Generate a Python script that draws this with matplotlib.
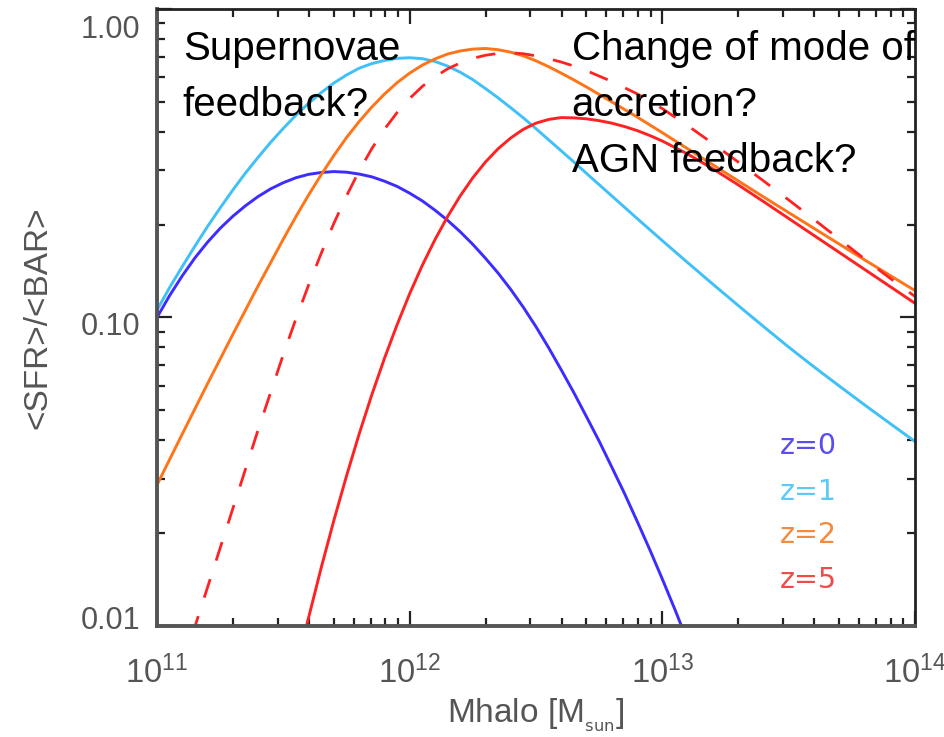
import numpy as np
import matplotlib
matplotlib.use("Agg")
import matplotlib.pyplot as plt
import matplotlib.transforms as mtrans
from matplotlib.ticker import LogLocator, NullFormatter

plt.rcParams['font.family'] = ['Liberation Sans', 'DejaVu Sans']
plt.rcParams['mathtext.default'] = 'regular'

# values: log10(Mhalo/Msun) and log10(<SFR>/<BAR>)
logm_z0 = [11.0, 11.05, 11.1, 11.15, 11.2, 11.25, 11.3, 11.35, 11.4, 11.45,
           11.5, 11.55, 11.6, 11.65, 11.7, 11.75, 11.8, 11.85, 11.9, 11.95,
           12.0, 12.05, 12.1, 12.15, 12.2, 12.25, 12.3, 12.35, 12.4, 12.45,
           12.5, 12.55, 12.6, 12.65, 12.7, 12.75, 12.8, 12.85, 12.9, 12.95,
           13.0, 13.05, 13.1]
logr_z0 = [-1.0, -0.929, -0.865, -0.807, -0.756, -0.711, -0.672, -0.638,
           -0.608, -0.583, -0.563, -0.547, -0.536, -0.530, -0.527, -0.529,
           -0.535, -0.544, -0.558, -0.575, -0.597, -0.622, -0.652, -0.685,
           -0.722, -0.763, -0.808, -0.856, -0.909, -0.967, -1.03, -1.098,
           -1.17, -1.244, -1.322, -1.401, -1.485, -1.570, -1.66, -1.752,
           -1.848, -1.947, -2.05]

logm_z1 = [11.0, 11.05, 11.1, 11.15, 11.2, 11.25, 11.3, 11.35, 11.4, 11.45,
           11.5, 11.55, 11.6, 11.65, 11.7, 11.75, 11.8, 11.85, 11.9, 11.95,
           12.0, 12.05, 12.1, 12.15, 12.2, 12.25, 12.3, 12.35, 12.4, 12.45,
           12.5, 12.55, 12.6, 12.65, 12.7, 12.8, 12.9, 13.0, 13.1, 13.2, 13.3,
           13.4, 13.5, 13.6, 13.7, 13.8, 13.9, 14.0]
logr_z1 = [-0.976, -0.903, -0.835, -0.769, -0.705, -0.645, -0.587, -0.532,
           -0.481, -0.432, -0.387, -0.344, -0.306, -0.271, -0.240, -0.214,
           -0.192, -0.177, -0.167, -0.160, -0.158, -0.161, -0.170, -0.185,
           -0.205, -0.229, -0.258, -0.288, -0.320, -0.353, -0.388, -0.424,
           -0.460, -0.496, -0.533, -0.606, -0.679, -0.751, -0.822, -0.892,
           -0.961, -1.029, -1.096, -1.160, -1.222, -1.283, -1.343, -1.402]

logm_z2 = [11.0, 11.1, 11.2, 11.3, 11.4, 11.5, 11.55, 11.6, 11.65, 11.7,
           11.75, 11.8, 11.85, 11.9, 11.95, 12.0, 12.05, 12.1, 12.15, 12.2,
           12.25, 12.3, 12.35, 12.4, 12.45, 12.5, 12.55, 12.6, 12.65, 12.7,
           12.8, 12.9, 13.0, 13.1, 13.2, 13.3, 13.4, 13.5, 13.6, 13.7, 13.8,
           13.9, 14.0]
logr_z2 = [-1.543, -1.378, -1.215, -1.055, -0.898, -0.746, -0.673, -0.603,
           -0.537, -0.475, -0.417, -0.365, -0.318, -0.276, -0.239, -0.208,
           -0.182, -0.162, -0.146, -0.136, -0.130, -0.128, -0.132, -0.140,
           -0.152, -0.168, -0.187, -0.208, -0.230, -0.253, -0.301, -0.350,
           -0.401, -0.453, -0.505, -0.557, -0.609, -0.660, -0.711, -0.762,
           -0.813, -0.863, -0.913]

logm_z5 = [11.58, 11.6, 11.65, 11.7, 11.75, 11.8, 11.85, 11.9, 11.95, 12.0,
           12.05, 12.1, 12.15, 12.2, 12.25, 12.3, 12.35, 12.4, 12.45, 12.5,
           12.55, 12.6, 12.65, 12.7, 12.75, 12.8, 12.85, 12.9, 12.95, 13.0,
           13.1, 13.2, 13.3, 13.4, 13.5, 13.6, 13.7, 13.8, 13.9, 14.0]
logr_z5 = [-2.037, -1.973, -1.811, -1.658, -1.514, -1.378, -1.251, -1.133,
           -1.024, -0.923, -0.831, -0.748, -0.673, -0.606, -0.547, -0.496,
           -0.453, -0.418, -0.390, -0.370, -0.358, -0.352, -0.353, -0.356,
           -0.362, -0.370, -0.381, -0.394, -0.410, -0.428, -0.470, -0.518,
           -0.570, -0.624, -0.679, -0.734, -0.789, -0.844, -0.899, -0.954]

logm_z5_dash = [11.14, 11.2, 11.3, 11.4, 11.5, 11.55, 11.6, 11.65, 11.7,
                11.75, 11.8, 11.85, 11.9, 11.95, 12.0, 12.05, 12.1, 12.15,
                12.2, 12.25, 12.3, 12.35, 12.4, 12.45, 12.5, 12.55, 12.6,
                12.65, 12.7, 12.8, 12.9, 13.0, 13.1, 13.2, 13.3, 13.4, 13.5,
                13.6, 13.7, 13.8, 13.9, 14.0]
logr_z5_dash = [-2.028, -1.875, -1.62, -1.365, -1.12, -1.004, -0.895, -0.792,
                -0.695, -0.606, -0.525, -0.453, -0.390, -0.336, -0.290,
                -0.251, -0.220, -0.194, -0.175, -0.160, -0.150, -0.144,
                -0.142, -0.145, -0.152, -0.161, -0.172, -0.185, -0.200,
                -0.235, -0.275, -0.323, -0.378, -0.436, -0.496, -0.557,
                -0.619, -0.682, -0.746, -0.810, -0.872, -0.932]

z_labels = ['z=0', 'z=1', 'z=2', 'z=5']
line_colors = ['#3d2cff', '#3fc0f8', '#ff7418', '#ff2222']
label_colors = ['#5a4cf2', '#5ccaf6', '#f58a3c', '#f24a4a']

xticks = [1e11, 1e12, 1e13, 1e14]
xticklabels = ['$10^{11}$', '$10^{12}$', '$10^{13}$', '$10^{14}$']
yticks = [0.01, 0.1, 1.0]
yticklabels = ['0.01', '0.10', '1.00']
ytick_shift_px = [-9, 6, 18]   # labels sit off their ticks in the original

fig = plt.figure(figsize=(9.45, 7.37), dpi=100)
ax = fig.add_axes([0.1661, 0.1506, 0.8022, 0.8372])

curves = [(logm_z0, logr_z0), (logm_z1, logr_z1), (logm_z2, logr_z2),
          (logm_z5, logr_z5)]
for (lm, lr), c in zip(curves, line_colors):
    ax.plot(10 ** np.array(lm), 10 ** np.array(lr), color=c, lw=2.1)
ax.plot(10 ** np.array(logm_z5_dash), 10 ** np.array(logr_z5_dash),
        color=line_colors[3], lw=2.0, ls=(0, (7, 7)))

ax.set_xscale('log')
ax.set_yscale('log')
ax.set_xlim(1e11, 1e14)
ax.set_ylim(0.01, 1.0)

ax.set_xticks(xticks)
ax.set_xticklabels(xticklabels)
ax.set_yticks(yticks)
ax.set_yticklabels(yticklabels)
ax.xaxis.set_minor_locator(LogLocator(base=10, subs=np.arange(2, 10)))
ax.yaxis.set_minor_locator(LogLocator(base=10, subs=np.arange(2, 10)))
ax.xaxis.set_minor_formatter(NullFormatter())
ax.yaxis.set_minor_formatter(NullFormatter())

ax.tick_params(which='both', direction='in', top=True, right=True,
               color='#222222', width=1.6)
ax.tick_params(which='major', length=11, labelcolor='#555555')
ax.tick_params(which='minor', length=6)
ax.tick_params(axis='x', which='major', pad=21, labelsize=23.5)
ax.tick_params(axis='y', which='major', pad=12, labelsize=22)

for side in ['left', 'bottom']:
    ax.spines[side].set_linewidth(2.8)
    ax.spines[side].set_color('#555555')
for side in ['top', 'right']:
    ax.spines[side].set_linewidth(2.0)
    ax.spines[side].set_color('#222222')

for tick, dy in zip(ax.yaxis.get_major_ticks(), ytick_shift_px):
    tick.label1.set_transform(tick.label1.get_transform() +
                              mtrans.ScaledTranslation(0, -dy / 100, fig.dpi_scale_trans))

ax.set_xlabel('Mhalo [M$_{_{\\mathrm{sun}}}$]', fontsize=24, color='#555555')
ax.set_ylabel('<SFR>/<BAR>', fontsize=24, color='#555555')
ax.xaxis.set_label_coords(0.5, -0.114)
ax.yaxis.set_label_coords(-0.136, 0.5)

# annotations
ax.text(0.034, 0.966, 'Supernovae\nfeedback?', transform=ax.transAxes,
        ha='left', va='top', fontsize=29, linespacing=1.6, color='black')
ax.text(0.547, 0.966, 'Change of mode of\naccretion?\nAGN feedback?',
        transform=ax.transAxes, ha='left', va='top', fontsize=29,
        linespacing=1.6, color='black')

label_y = [0.2917, 0.2172, 0.1475, 0.0746]
for lab, c, yy in zip(z_labels, label_colors, label_y):
    ax.text(0.822, yy, lab, transform=ax.transAxes, ha='left', va='center',
            fontsize=20.5, family='DejaVu Sans', color=c)

fig.savefig('out.png', dpi=100)
